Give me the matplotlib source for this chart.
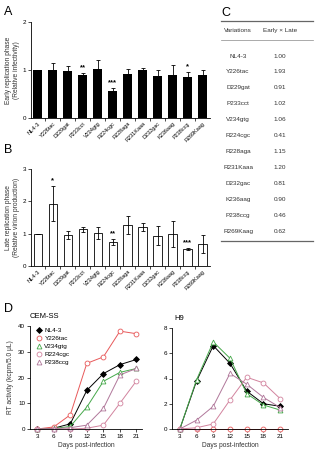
import numpy as np
import matplotlib
matplotlib.use("Agg")
import matplotlib.pyplot as plt
from matplotlib.lines import Line2D

plt.rcParams['font.family'] = ['Liberation Sans', 'DejaVu Sans']

W, H = 316, 451

variants = ["NL4-3", "Y226tac", "D229gat", "P233cct", "V234gtg", "R224cgc",
            "R228aga", "R231Kaaa", "D232gac", "K236aag", "P238ccg", "R269Kaag"]

early = [1.00, 1.00, 0.97, 0.90, 1.02, 0.57, 0.91, 1.00, 0.87, 0.90, 0.85, 0.90]
early_err = [0.0, 0.14, 0.12, 0.03, 0.18, 0.06, 0.11, 0.04, 0.12, 0.20, 0.10, 0.09]
early_sig = ["", "", "", "**", "", "***", "", "", "", "", "*", ""]

late = [1.00, 1.93, 0.95, 1.13, 1.03, 0.73, 1.27, 1.20, 0.94, 1.00, 0.53, 0.68]
late_err = [0.0, 0.55, 0.12, 0.07, 0.18, 0.09, 0.28, 0.13, 0.30, 0.40, 0.02, 0.28]
late_sig = ["", "*", "", "", "", "**", "", "", "", "", "***", ""]

table_vals = ["1.00", "1.93", "0.91", "1.02", "1.06", "0.41",
              "1.15", "1.20", "0.81", "0.90", "0.46", "0.62"]

days = [3, 6, 9, 12, 15, 18, 21]
series = ["NL4-3", "Y226tac", "V234gtg", "R224cgc", "P238ccg"]
cem = {
    "NL4-3":   [0, 0.3, 2.0, 15.0, 21.5, 25.0, 27.0],
    "Y226tac": [0, 0.8, 5.5, 25.5, 28.0, 38.0, 37.0],
    "V234gtg": [0, 0.2, 1.0, 8.5, 18.5, 22.0, 23.5],
    "R224cgc": [0, 0.0, 0.0, 0.3, 1.5, 10.0, 18.7],
    "P238ccg": [0, 0.1, 0.5, 1.5, 8.0, 21.0, 23.5],
}
h9 = {
    "NL4-3":   [0, 3.8, 6.6, 5.2, 3.0, 2.0, 1.8],
    "Y226tac": [0, 0, 0, 0, 0, 0, 0],
    "V234gtg": [0, 3.9, 6.9, 5.6, 2.8, 1.9, 1.5],
    "R224cgc": [0, 0.1, 0.4, 2.3, 4.1, 3.65, 2.4],
    "P238ccg": [0, 0.7, 1.8, 4.4, 3.55, 2.5, 1.7],
}
styles = {
    "NL4-3":   dict(color="black", marker="D", mfc="black", ms=3),
    "Y226tac": dict(color="#e8595a", marker="o", mfc="white", ms=3.5),
    "V234gtg": dict(color="#45a84a", marker="^", mfc="white", ms=3.5),
    "R224cgc": dict(color="#d2839e", marker="o", mfc="white", ms=3.5),
    "P238ccg": dict(color="#b0779a", marker="^", mfc="white", ms=3.5),
}

fig = plt.figure(figsize=(W / 100, H / 100), dpi=100)


def px_axes(l, t, r, b):
    return fig.add_axes([l / W, 1 - b / H, (r - l) / W, (b - t) / H])


def style_axes(ax):
    for s in ("top", "right"):
        ax.spines[s].set_visible(False)
    for s in ("left", "bottom"):
        ax.spines[s].set_linewidth(0.6)
    ax.tick_params(labelsize=4.5, width=0.5, length=2, pad=1.5)


def bar_panel(ax, vals, errs, sigs, ymax, filled, ylabel):
    x = np.arange(len(vals))
    if filled:
        ax.bar(x, vals, width=0.58, color="black")
        ax.errorbar(x, vals, yerr=[np.zeros(len(errs)), errs], fmt="none",
                    ecolor="black", elinewidth=0.6, capsize=1.5, capthick=0.6)
    else:
        ax.bar(x, vals, width=0.55, color="white", edgecolor="black", linewidth=0.6)
        ax.errorbar(x, vals, yerr=errs, fmt="none",
                    ecolor="black", elinewidth=0.6, capsize=1.5, capthick=0.6)
    for xi, v, e, s in zip(x, vals, errs, sigs):
        if s:
            ax.text(xi, v + e + 0.02 * ymax, s, ha="center", va="bottom",
                    fontsize=5.5, fontweight="bold", linespacing=0.5)
    ax.set_xlim(-0.45, 11.5)
    ax.set_ylim(0, ymax)
    ax.set_yticks(range(ymax + 1))
    ax.set_xticks(x)
    ax.set_xticklabels(variants, rotation=45, ha="right", rotation_mode="anchor",
                       fontsize=4)
    ax.set_xticks(x[:-1] + 0.5, minor=True)
    ax.tick_params(axis="x", which="major", length=0, pad=2)
    ax.tick_params(axis="x", which="minor", length=2, width=0.5)
    ax.set_ylabel(ylabel, fontsize=4.8, labelpad=2, color="#333333")


axA = px_axes(31, 22, 210, 118)
style_axes(axA)
bar_panel(axA, early, early_err, early_sig, 2, True,
          "Early replication phase\n(Relative infectivity)")

axB = px_axes(31, 169, 210, 266)
style_axes(axB)
bar_panel(axB, late, late_err, late_sig, 3, False,
          "Late replication phase\n(Relative virion production)")

# table C
axC = px_axes(218, 18, 315, 246)
axC.set_xlim(218, 315)
axC.set_ylim(246, 18)
axC.axis("off")
axC.plot([221, 313], [21.5, 21.5], color="#666666", lw=0.9)
axC.plot([221, 313], [40, 40], color="#888888", lw=0.5)
axC.plot([221, 313], [241.5, 241.5], color="#666666", lw=0.9)
axC.text(238, 30.5, "Variations", ha="center", va="center", fontsize=4.6, color="#333333")
axC.text(280, 30.5, "Early \u00d7 Late", ha="center", va="center", fontsize=4.6, color="#333333")
row_y = np.linspace(56, 231.5, len(variants))
for yy, name, val in zip(row_y, variants, table_vals):
    axC.text(238, yy, name, ha="center", va="center", fontsize=4.6, color="#333333")
    axC.text(280, yy, val, ha="center", va="center", fontsize=4.6, color="#333333")


def line_panel(ax, data, xlim, ymax, ystep):
    for name in series:
        st = styles[name]
        ax.plot(days, data[name], color=st["color"], marker=st["marker"],
                mfc=st["mfc"], mec=st["color"], ms=st["ms"], lw=0.7, mew=0.6,
                label=name, clip_on=False)
    ax.set_xlim(*xlim)
    ax.set_ylim(0, ymax)
    ax.set_xticks(days)
    ax.set_yticks(np.arange(0, ymax + 0.01, ystep))
    ax.set_xlabel("Days post-infection", fontsize=4.8, labelpad=2, color="#333333")


axD1 = px_axes(30, 326, 142, 429)
style_axes(axD1)
line_panel(axD1, cem, (1.7, 22.0), 40, 10)
axD1.set_ylabel("RT activity (kcpm/5.0 \u03bcL)", fontsize=4.8, labelpad=3, color="#333333")
handles = [Line2D([], [], linestyle="none", marker=styles[n]["marker"],
                  mfc=styles[n]["mfc"], mec=styles[n]["color"], ms=styles[n]["ms"],
                  mew=0.6) for n in series]
axD1.legend(handles, series, loc="upper left", bbox_to_anchor=(0.02, 1.02),
            frameon=False, fontsize=4.6, handlelength=0.8, handletextpad=0.5,
            labelspacing=0.4, borderaxespad=0.2)
axD1.text(0.0, 1.06, "CEM-SS", transform=axD1.transAxes, fontsize=5.5,
          va="bottom", ha="left")

axD2 = px_axes(172, 328, 288, 429)
style_axes(axD2)
line_panel(axD2, h9, (1.6, 22.4), 8, 2)
axD2.text(0.02, 1.06, "H9", transform=axD2.transAxes, fontsize=5.5,
          va="bottom", ha="left")

for lab, xp, yp in [("A", 4, 12), ("B", 4, 150), ("C", 221, 13), ("D", 4, 309)]:
    fig.text(xp / W, 1 - yp / H, lab, fontsize=9, ha="left", va="center")

fig.savefig("out.png", dpi=100)
